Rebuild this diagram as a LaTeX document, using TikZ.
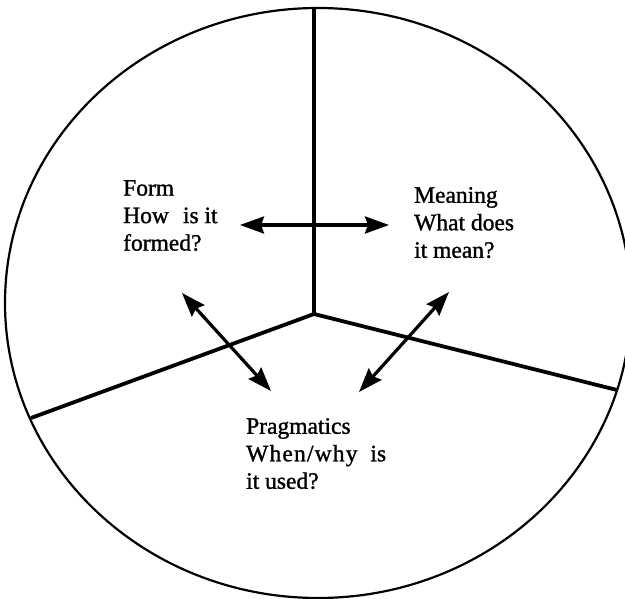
\documentclass[tikz,border=0pt]{standalone}
\usepackage{fontspec}
\setmainfont{Liberation Serif}[FakeBold=1.2]
\usetikzlibrary{arrows.meta}
\begin{document}
\begin{tikzpicture}[x=1pt,y=-1pt,
  rim/.style={line width=2.2pt},
  divider/.style={line width=3.8pt, line join=miter},
  link/.style={line width=3.2pt, {Stealth[length=24pt,width=17pt,inset=3pt]}-{Stealth[length=24pt,width=17pt,inset=3pt]}},
  txt/.style={anchor=north west, inner sep=0pt, align=left, font=\fontsize{23.5}{27.5}\selectfont}]
\useasboundingbox (0,0) rectangle (625,599);
\fill[white] (0,0) rectangle (625,599);
\draw[rim] (318,303) ellipse [x radius=313, y radius=295];
% dividers
\coordinate (hub) at (314,314);
\coordinate (top) at (314,8);
\coordinate (lend) at (31,418);
\coordinate (rend) at (617,390);
\draw[divider] (top) -- (hub) -- (rend);
\draw[divider] (lend) -- (hub);
% labels
\node[txt] (form) at (123,180) {Form\\How\hspace{0.6em}is it\\formed?};
\node[txt] (meaning) at (414,187) {Meaning\\What does\\it mean?};
\node[txt] (prag) at (246,418) {Pragmatics\\{\addfontfeature{LetterSpace=5}When/why}\hspace{0.55em}is\\it used?};
% arrows
\coordinate (fm1) at (240,225);
\coordinate (fm2) at (389,225);
\coordinate (fp1) at (182,293);
\coordinate (fp2) at (271,391);
\coordinate (mp1) at (449,292);
\coordinate (mp2) at (359,392);
\draw[link] (fm1) -- (fm2);
\draw[link] (fp1) -- (fp2);
\draw[link] (mp1) -- (mp2);
\end{tikzpicture}
\end{document}
